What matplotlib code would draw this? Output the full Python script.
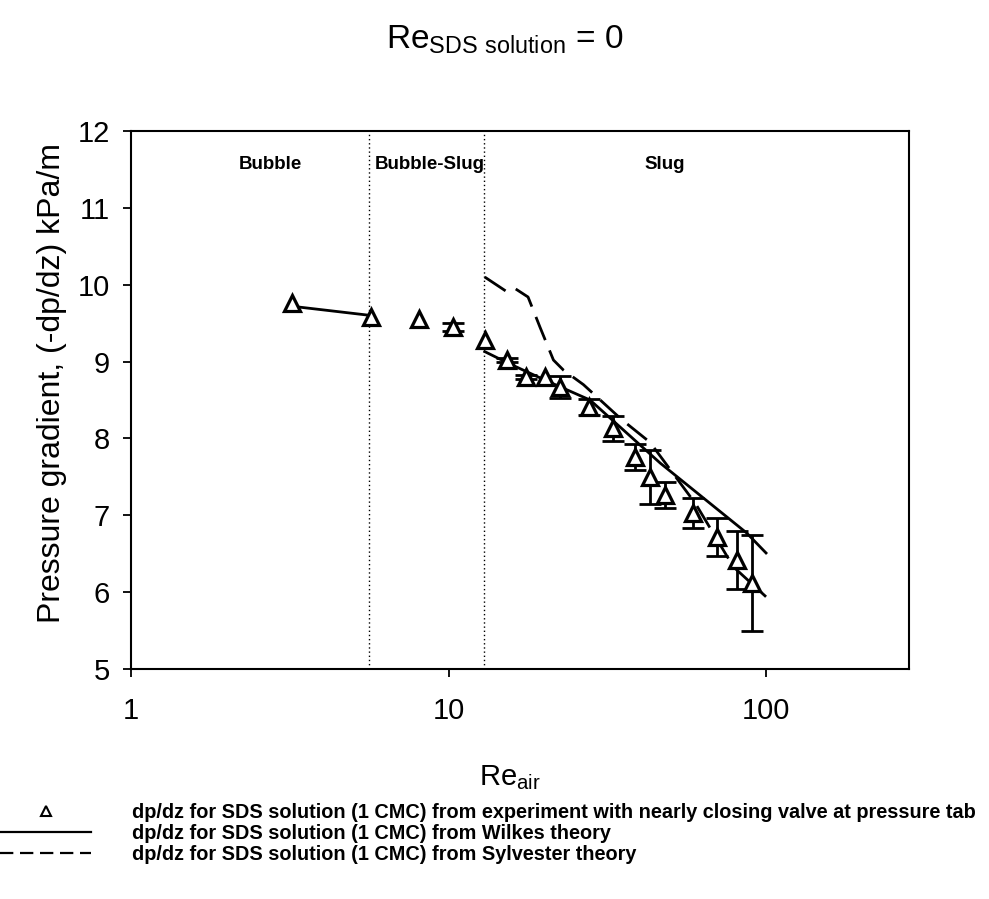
import matplotlib
matplotlib.use("Agg")
import matplotlib.pyplot as plt
from matplotlib.lines import Line2D
from matplotlib.ticker import FixedLocator, FixedFormatter, NullLocator

plt.rcParams['font.family'] = ['Liberation Sans', 'DejaVu Sans']
plt.rcParams['mathtext.fontset'] = 'custom'
plt.rcParams['mathtext.rm'] = 'Liberation Sans'

# experiment (nearly closing valve at pressure tab)
re_air = [3.21, 5.69, 8.09, 10.35, 13.0, 15.25, 17.6, 20.1, 22.5, 27.6,
          33.0, 38.7, 43.1, 48.1, 59.0, 69.9, 80.9, 90.1]
dpdz = [9.76, 9.58, 9.55, 9.45, 9.28, 9.02, 8.80, 8.80, 8.67, 8.41,
        8.13, 7.76, 7.50, 7.26, 7.03, 6.72, 6.42, 6.12]
dpdz_err = [0.0, 0.0, 0.0, 0.05, 0.0, 0.03, 0.03, 0.0, 0.14, 0.10,
            0.16, 0.17, 0.35, 0.17, 0.20, 0.25, 0.38, 0.63]

# Wilkes theory (bubble part, slug part)
wilkes_bub_x = [3.21, 5.69]
wilkes_bub_y = [9.72, 9.60]
wilkes_slug_x = [13.0, 15.4, 20.1, 27.9, 46.4, 86.9, 100.0]
wilkes_slug_y = [9.13, 8.98, 8.76, 8.50, 7.68, 6.77, 6.51]

# Sylvester theory
sylv_x = [13.0, 15.25, 16.2, 17.8, 19.4, 21.4, 23.0, 26.6, 35.0, 43.1, 60.0, 78.9, 100.0]
sylv_y = [10.10, 9.91, 9.95, 9.84, 9.45, 9.02, 8.89, 8.70, 8.25, 7.95, 7.15, 6.33, 5.94]

regime_bounds = [5.62, 12.9]
regime_names = ["Bubble", "Bubble-Slug", "Slug"]
regime_label_x = [2.74, 8.74, 48.1]

legend_labels = [
    "dp/dz for SDS solution (1 CMC) from experiment with nearly closing valve at pressure tab",
    "dp/dz for SDS solution (1 CMC) from Wilkes theory",
    "dp/dz for SDS solution (1 CMC) from Sylvester theory",
]

fig = plt.figure(figsize=(9.89, 8.99), dpi=100)
ax = fig.add_axes([0.1325, 0.2558, 0.7866, 0.5985])

for b in regime_bounds:
    ax.axvline(b, color='black', linestyle=(0, (1, 2)), linewidth=1.0)

ax.plot(wilkes_bub_x, wilkes_bub_y, color='black', linewidth=2)
ax.plot(wilkes_slug_x, wilkes_slug_y, color='black', linewidth=2)
ax.plot(sylv_x, sylv_y, color='black', linewidth=2, dashes=(9, 4))

# only the points that have a scatter band get error bars
ex = [x for x, e in zip(re_air, dpdz_err) if e > 0]
ey = [y for y, e in zip(dpdz, dpdz_err) if e > 0]
ee = [e for e in dpdz_err if e > 0]
ax.errorbar(ex, ey, yerr=ee, fmt='none', ecolor='black',
            elinewidth=2, capsize=8, capthick=2)
ax.plot(re_air, dpdz, linestyle='none', marker='^', markersize=11,
        markerfacecolor='white', markeredgecolor='black', markeredgewidth=2.3)

for name, xp in zip(regime_names, regime_label_x):
    ax.text(xp, 11.56, name, ha='center', va='center', fontsize=13.5, fontweight='bold')

ax.set_xscale('log')
ax.set_xlim(1, 282)
ax.set_ylim(5, 12)
ax.xaxis.set_major_locator(FixedLocator([1, 10, 100]))
ax.xaxis.set_major_formatter(FixedFormatter(["1", "10", "100"]))
ax.xaxis.set_minor_locator(NullLocator())
ax.set_yticks([5, 6, 7, 8, 9, 10, 11, 12])
ax.tick_params(axis='x', direction='out', length=6, width=1.3, labelsize=21, pad=14)
ax.tick_params(axis='y', direction='out', length=6, width=1.3, labelsize=21, pad=9)
for s in ax.spines.values():
    s.set_linewidth(1.5)

ax.set_xlabel(r'Re$_{\mathregular{air}}$', fontsize=21, labelpad=26)
ax.xaxis.set_label_coords(0.487, -0.175)
ax.set_ylabel('Pressure gradient, (-dp/dz) kPa/m', fontsize=23)
ax.yaxis.set_label_coords(-0.082, 0.532)

fig.text(505 / 989, 1 - 40 / 899, r'Re$_{\mathregular{SDS\ solution}}$ = 0',
         ha='center', va='center', fontsize=24)

handles = [
    Line2D([], [], linestyle='none', marker='^', markersize=7,
           markerfacecolor='white', markeredgecolor='black', markeredgewidth=1.5),
    Line2D([], [], color='black', linewidth=1.6),
    Line2D([], [], color='black', linewidth=1.6, dashes=(6, 3)),
]
fig.legend(handles, legend_labels, loc='upper left', bbox_to_anchor=(0.0, 1 - 803 / 899),
           frameon=False, handlelength=4.6, handletextpad=2.05, labelspacing=0.1,
           borderaxespad=0, borderpad=0, numpoints=1,
           prop={'weight': 'bold', 'size': 14.3})

fig.savefig("out.png", dpi=100)
